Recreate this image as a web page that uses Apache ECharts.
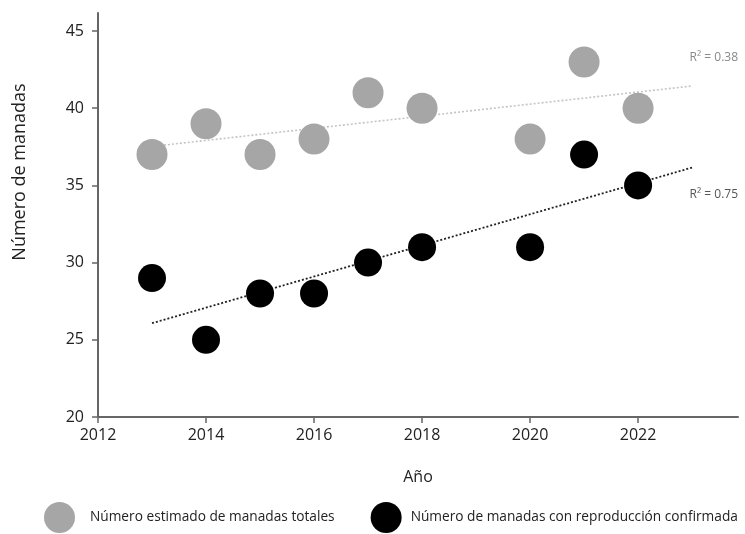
<!DOCTYPE html>
<html>
<head>
<meta charset="utf-8">
<script src="https://cdn.jsdelivr.net/npm/echarts@6/dist/echarts.min.js"></script>
<style>
  html, body { margin: 0; padding: 0; background: #fff; }
  #chart { width: 745px; height: 534px; }
</style>
</head>
<body>
<div id="chart"></div>
<script>
// Survey years and pack counts
const years = [2013, 2014, 2015, 2016, 2017, 2018, 2020, 2021, 2022];
const totalPacks = [37, 39, 37, 38, 41, 40, 38, 43, 40];
const breedingPacks = [29, 25, 28, 28, 30, 31, 31, 37, 35];
const xTicks = [2012, 2014, 2016, 2018, 2020, 2022];
const yTicks = [20, 25, 30, 35, 40, 45];
const trendSpan = [2013, 2023];
const seriesNames = ['Número estimado de manadas totales', 'Número de manadas con reproducción confirmada'];
const r2Labels = ['R² = 0.38', 'R² = 0.75'];
// Anchor points (axis units) for the R² annotations, right-aligned
const r2Anchors = [[2023.85, 43.25], [2023.85, 34.4]];

// Least-squares linear fit evaluated at the ends of the trend span
function fitLine(xs, ys) {
  const n = xs.length;
  const mx = xs.reduce((a, b) => a + b, 0) / n;
  const my = ys.reduce((a, b) => a + b, 0) / n;
  let sxy = 0, sxx = 0;
  for (let i = 0; i < n; i++) {
    sxy += (xs[i] - mx) * (ys[i] - my);
    sxx += (xs[i] - mx) * (xs[i] - mx);
  }
  const slope = sxy / sxx;
  return trendSpan.map(x => [x, my + slope * (x - mx)]);
}

const FONT = '"Open Sans", "Noto Sans", sans-serif';
const chart = echarts.init(document.getElementById('chart'));

function r2Mark(idx, color) {
  return {
    symbol: 'rect', symbolSize: 0, silent: true,
    data: [{
      coord: r2Anchors[idx],
      label: { show: true, position: 'inside', formatter: r2Labels[idx], fontSize: 12, color: color, align: 'right', verticalAlign: 'middle', fontFamily: FONT }
    }]
  };
}

chart.setOption({
  animation: false,
  textStyle: { fontFamily: FONT },
  grid: { left: 98, right: 7, top: 13, bottom: 117, containLabel: false },
  xAxis: {
    type: 'value', min: 2012, max: 2023.85,
    name: 'Año', nameLocation: 'middle', nameGap: 52,
    nameTextStyle: { fontSize: 16, color: '#222', fontFamily: FONT },
    axisLine: { show: true, onZero: false, lineStyle: { color: '#666', width: 2 } },
    axisTick: { show: true, customValues: xTicks, length: 6, lineStyle: { color: '#666', width: 1.5 } },
    axisLabel: { customValues: xTicks, fontSize: 16, color: '#222', margin: 10, fontFamily: FONT, formatter: v => String(v) },
    splitLine: { show: false }
  },
  yAxis: {
    type: 'value', min: 20, max: 46.17,
    axisLine: { show: true, lineStyle: { color: '#666', width: 2 } },
    axisTick: { show: true, customValues: yTicks, length: 6, lineStyle: { color: '#666', width: 1.5 } },
    axisLabel: { customValues: yTicks, fontSize: 16, color: '#222', margin: 14, fontFamily: FONT },
    splitLine: { show: false }
  },
  legend: {
    top: 502, left: 44, width: 701, padding: 0, itemWidth: 31, itemHeight: 31, itemGap: 36,
    icon: 'circle',
    textStyle: { fontSize: 13.7, color: '#222', fontFamily: FONT },
    data: [
      { name: seriesNames[0], textStyle: { padding: [0, 0, 0, 10] } },
      { name: seriesNames[1], textStyle: { padding: [0, 0, 0, 4] } }
    ]
  },
  graphic: [
    {
      type: 'text', x: 20, y: 172, rotation: Math.PI / 2,
      style: { text: 'Número de manadas', font: '18px ' + FONT, fill: '#222', align: 'center', verticalAlign: 'middle' }
    }
  ],
  series: [
    {
      name: 'tendencia-total', type: 'line', data: fitLine(years, totalPacks),
      symbol: 'none', silent: true, z: 1,
      lineStyle: { color: '#c4c4c4', width: 1.6, type: [2, 2] },
      markPoint: r2Mark(0, '#888')
    },
    {
      name: 'tendencia-reproduccion', type: 'line', data: fitLine(years, breedingPacks),
      symbol: 'none', silent: true, z: 1,
      lineStyle: { color: '#222', width: 1.8, type: [2, 2] },
      markPoint: r2Mark(1, '#555')
    },
    {
      name: seriesNames[0], type: 'scatter', z: 3,
      data: years.map((y, i) => [y, totalPacks[i]]),
      symbolSize: 31, itemStyle: { color: '#a6a6a6', opacity: 1 }
    },
    {
      name: seriesNames[1], type: 'scatter', z: 3,
      data: years.map((y, i) => [y, breedingPacks[i]]),
      symbolSize: 28, itemStyle: { color: '#000', opacity: 1 }
    }
  ]
});
</script>
</body>
</html>
